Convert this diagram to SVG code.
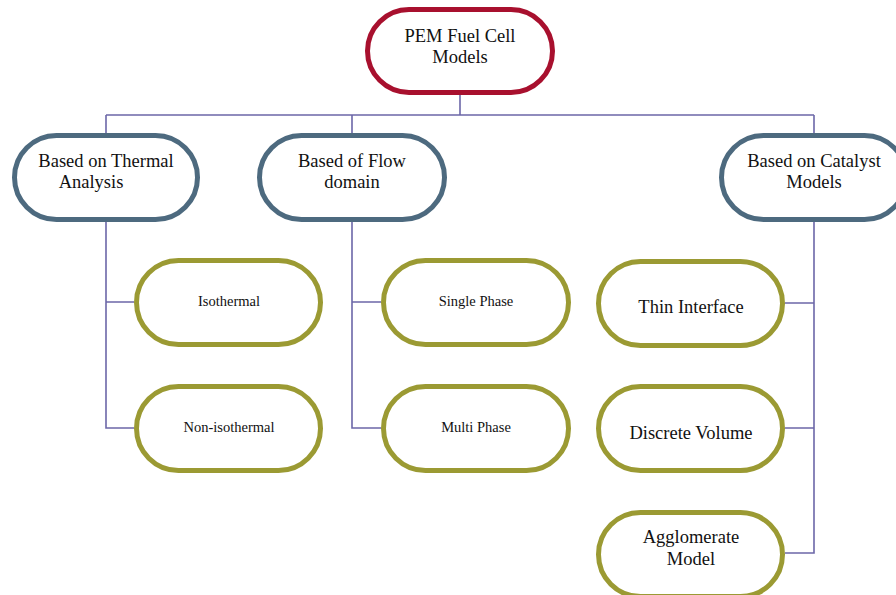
<svg xmlns="http://www.w3.org/2000/svg" width="896" height="595" viewBox="0 0 896 595">
<style>
.n rect{fill:#fff;stroke-width:5}
.root rect{stroke:#a8102e}
.l2 rect{stroke:#4d6a7f}
.l3 rect{stroke:#9b9a33}
text{font-family:"Liberation Serif","Times New Roman",serif;fill:#111;text-anchor:middle}
.big{font-size:18.5px}
.sm{font-size:14.5px}
#connectors path{fill:none;stroke:#6c67a8;stroke-width:1.6}
</style>
<rect width="896" height="595" fill="#fff"/>
<g id="connectors">
<path d="M460 95V115M106 115H814M106 115V133M352 115V133M814 115V133"/>
<path d="M106 222V428H134M106 302H134"/>
<path d="M352 222V428H381M352 302H381"/>
<path d="M814 222V553H785M814 303H785M814 428H785"/>
</g>
<g id="root" class="n root"><rect x="367.5" y="9.5" width="185" height="83" rx="41.5"/><text class="big" x="460" y="42">PEM Fuel Cell</text><text class="big" x="460" y="63">Models</text></g>
<g id="thermal" class="n l2"><rect x="14.5" y="135.5" width="183" height="84" rx="42"/><text class="big" x="106" y="167">Based on Thermal</text><text class="big" x="91" y="188">Analysis</text></g>
<g id="flow" class="n l2"><rect x="259.5" y="135.5" width="185" height="84" rx="42"/><text class="big" x="352" y="167">Based of Flow</text><text class="big" x="352" y="188">domain</text></g>
<g id="catalyst" class="n l2"><rect x="721.5" y="135.5" width="185" height="84" rx="42"/><text class="big" x="814" y="167">Based on Catalyst</text><text class="big" x="814" y="188">Models</text></g>
<g id="isothermal" class="n l3"><rect x="136.5" y="260.5" width="184" height="84" rx="42"/><text class="sm" x="229" y="306">Isothermal</text></g>
<g id="nonisothermal" class="n l3"><rect x="136.5" y="386.5" width="184" height="84" rx="42"/><text class="sm" x="229" y="432">Non-isothermal</text></g>
<g id="singlephase" class="n l3"><rect x="383.5" y="260.5" width="185" height="84" rx="42"/><text class="sm" x="476" y="306">Single Phase</text></g>
<g id="multiphase" class="n l3"><rect x="383.5" y="386.5" width="185" height="84" rx="42"/><text class="sm" x="476" y="432">Multi Phase</text></g>
<g id="thininterface" class="n l3"><rect x="598.5" y="261.5" width="184" height="84" rx="42"/><text class="big" x="691" y="313">Thin Interface</text></g>
<g id="discretevolume" class="n l3"><rect x="598.5" y="386.5" width="184" height="84" rx="42"/><text class="big" x="691" y="439">Discrete Volume</text></g>
<g id="agglomerate" class="n l3"><rect x="598.5" y="512.5" width="184" height="84" rx="42"/><text class="big" x="691" y="543">Agglomerate</text><text class="big" x="691" y="565">Model</text></g>
</svg>
